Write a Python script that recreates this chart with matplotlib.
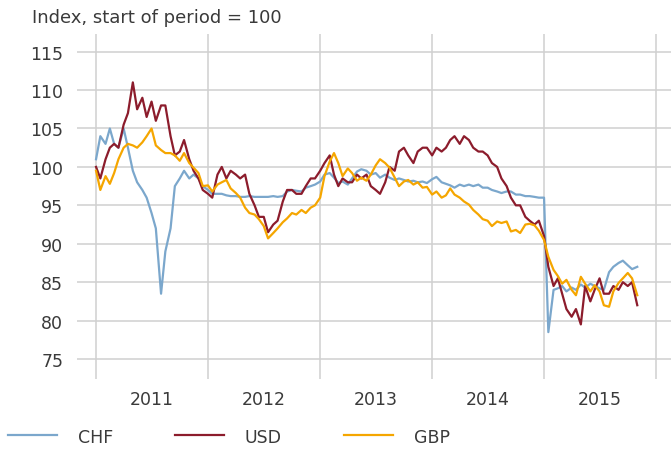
import pandas as pd
import matplotlib
matplotlib.use("Agg")
import matplotlib.pyplot as plt

# semi-monthly observations, Jan 2011 - Nov 2015 (index, start of period = 100)
dates = pd.date_range("2011-01-01", periods=117, freq="SMS")

chf = [101, 104, 103, 105, 103, 102.5, 105, 102.5, 99.5, 98, 97, 96, 94, 92, 83.5, 89, 92, 97.5,
       98.5, 99.5, 98.5, 99, 98.5, 97.5, 97, 96.5, 96.5, 96.5, 96.3, 96.2, 96.2, 96.1, 96.1, 96.2,
       96.1, 96.1, 96.1, 96.1, 96.2, 96.1, 96.2, 96.8, 97, 96.9, 96.8, 97.3, 97.5, 97.7, 98.1, 99,
       99.2, 98.6, 97.9, 98.1, 97.7, 98.5, 99.4, 99.7, 99.5, 99, 99.2, 98.6, 99, 98.6, 98.3, 98.5,
       98.3, 98.1, 98.2, 98, 98.1, 97.9, 98.4, 98.7, 98, 97.8, 97.6, 97.3, 97.7, 97.5, 97.7, 97.5,
       97.7, 97.3, 97.3, 97, 96.8, 96.6, 96.8, 96.8, 96.4, 96.4, 96.2, 96.2, 96.1, 96, 96, 78.5,
       84, 84.2, 84.5, 83.8, 84.3, 84, 84.7, 84.3, 84.8, 84.5, 84.2, 84, 86.3, 87, 87.5, 87.8,
       87.2, 86.7, 87]

usd = [100, 98.5, 101, 102.5, 103, 102.5, 105.5, 107, 111, 107.5, 109, 106.5, 108.5, 106, 108,
       108, 104, 101.5, 102, 103.5, 101, 99.5, 98.5, 97, 96.5, 96, 99, 100, 98.5, 99.5, 99, 98.5,
       99, 96.5, 95, 93.5, 93.5, 91.5, 92.5, 93, 95.5, 97, 97, 96.5, 96.5, 97.5, 98.5, 98.5, 99.5,
       100.5, 101.5, 99, 97.5, 98.5, 98, 98, 99, 98.5, 99, 97.5, 97, 96.5, 98, 100, 99.5, 102,
       102.5, 101.5, 100.5, 102, 102.5, 102.5, 101.5, 102.5, 102, 102.5, 103.5, 104, 103, 104,
       103.5, 102.5, 102, 102, 101.5, 100.5, 100, 98.5, 97.5, 96, 95, 95, 93.5, 93, 92.5, 93, 91,
       87, 84.5, 85.5, 83.5, 81.5, 80.5, 81.5, 79.5, 84.5, 82.5, 84, 85.5, 83.5, 83.5, 84.5, 84,
       85, 84.5, 85, 82]

gbp = [99.5, 97, 98.8, 97.8, 99.2, 101, 102.5, 103, 102.8, 102.5, 103.2, 104, 105, 102.8, 102.2,
       101.8, 101.8, 101.5, 100.8, 101.8, 100.5, 99.9, 99.2, 97.5, 97.6, 96.8, 97.7, 98, 98.3,
       97.2, 96.6, 96, 94.7, 94, 93.8, 93.2, 92.3, 90.7, 91.4, 92, 92.8, 93.3, 94, 93.8, 94.4, 94,
       94.7, 95, 96, 98.8, 100.7, 101.8, 100.5, 98.8, 99.8, 99.2, 98.2, 98.6, 98.2, 99, 100.2, 101,
       100.5, 99.9, 98.6, 97.5, 98.1, 98.3, 97.7, 98, 97.3, 97.4, 96.4, 96.8, 96, 96.3, 97.2, 96.4,
       96, 95.5, 95.1, 94.4, 93.8, 93.2, 93, 92.3, 92.9, 92.7, 92.9, 91.6, 91.8, 91.4, 92.5, 92.6,
       92.4, 91.7, 90.5, 88.3, 86.6, 85.8, 84.8, 85.3, 84, 83.3, 85.7, 84.8, 83.8, 84.6, 83.8, 82,
       81.8, 83.8, 84.9, 85.5, 86.2, 85.5, 83.3]

series = [("CHF", chf, "#7ba7cc"), ("USD", usd, "#8c1c2c"), ("GBP", gbp, "#f5a600")]
years = [2011, 2012, 2013, 2014, 2015]
yticks = [75, 80, 85, 90, 95, 100, 105, 110, 115]

TEXT = "#3a3a3a"
GRID = "#d0d0d0"
FS = 12.5

fig = plt.figure(figsize=(6.71, 4.52), dpi=100)
ax = fig.add_axes([0.1148, 0.1593, 0.8852, 0.7633])

for name, vals, color in series:
    ax.plot(dates, vals, color=color, lw=1.6, label=name, solid_joinstyle="round")

ax.set_ylim(72.4, 117.3)
ax.set_xlim(pd.Timestamp("2010-10-31"), pd.Timestamp("2016-02-19"))

# year boundaries as major (grid), mid-year as minor (labels)
ax.set_xticks([pd.Timestamp(f"{y}-01-01") for y in years + [2016]])
ax.set_xticks([pd.Timestamp(f"{y}-07-02") for y in years], minor=True)
ax.set_xticklabels([])
ax.set_xticklabels([str(y) for y in years], minor=True)
ax.set_yticks(yticks)
ax.set_yticklabels([str(v) for v in yticks])

ax.tick_params(axis="both", which="both", length=0, labelsize=FS, labelcolor=TEXT)
ax.tick_params(axis="y", pad=10)
ax.tick_params(axis="x", which="minor", pad=8)
ax.grid(True, which="major", color=GRID, lw=1.1)
ax.set_axisbelow(True)
for s in ax.spines.values():
    s.set_visible(False)

fig.text(0.047, 0.96, "Index, start of period = 100", fontsize=13, color=TEXT, va="center")

fig.legend(loc="center left", bbox_to_anchor=(0.002, 0.032), ncol=3, frameon=False,
           fontsize=FS, handlelength=2.8, handletextpad=1.2, columnspacing=3.6,
           labelcolor=TEXT, borderaxespad=0)

fig.savefig("out.png", dpi=100)
